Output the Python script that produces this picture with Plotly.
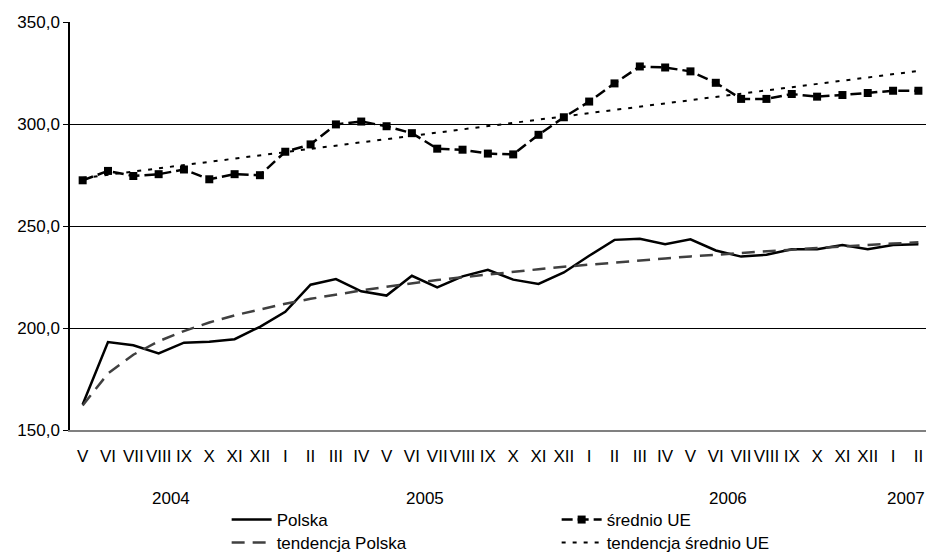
import plotly.graph_objects as go

months = ["V", "VI", "VII", "VIII", "IX", "X", "XI", "XII",
          "I", "II", "III", "IV", "V", "VI", "VII", "VIII", "IX", "X", "XI", "XII",
          "I", "II", "III", "IV", "V", "VI", "VII", "VIII", "IX", "X", "XI", "XII",
          "I", "II"]
years = ["2004", "2005", "2006", "2007"]
year_counts = [8, 12, 12, 2]

polska = [162.5, 193.1, 191.5, 187.5, 192.8, 193.3, 194.5, 200.6,
          207.9, 221.2, 224.0, 218.0, 215.9, 225.6, 219.9, 225.3, 228.5, 223.7, 221.6, 227.2,
          235.4, 243.2, 243.7, 241.1, 243.5, 238.0, 235.0, 235.9, 238.6, 238.6, 240.7, 238.6,
          240.7, 241.1]
srednio_ue = [272.4, 277.0, 274.5, 275.4, 277.7, 272.9, 275.4, 274.9,
              286.4, 290.0, 299.8, 301.2, 298.9, 295.5, 287.9, 287.4, 285.5, 285.1, 294.7, 303.3,
              311.0, 319.9, 328.2, 327.7, 325.8, 320.2, 312.3, 312.3, 314.7, 313.4, 314.2, 315.2,
              316.3, 316.3]
tend_polska = [162.0, 177.7, 186.9, 193.5, 198.5, 202.7, 206.2, 209.2,
               211.9, 214.3, 216.4, 218.4, 220.2, 221.9, 223.5, 224.9, 226.3, 227.6, 228.8, 230.0,
               231.1, 232.2, 233.2, 234.1, 235.1, 236.0, 236.8, 237.6, 238.4, 239.2, 240.0, 240.7,
               241.4, 242.0]
tend_ue_ends = [273.5, 326.0]

y_ticks = [150, 200, 250, 300, 350]
y_tick_labels = ["150,0", "200,0", "250,0", "300,0", "350,0"]

xs = list(range(len(months)))
FONT = "Arial, Liberation Sans, sans-serif"
FS = 17

fig = go.Figure()
fig.add_trace(go.Scatter(x=xs, y=polska, name="Polska", mode="lines",
                         line=dict(color="black", width=2.5), legend="legend"))
fig.add_trace(go.Scatter(x=xs, y=srednio_ue, name="średnio UE", mode="lines+markers",
                         line=dict(color="black", width=2.5, dash="11px,5px"),
                         marker=dict(symbol="square", size=8, color="black"),
                         legend="legend"))
fig.add_trace(go.Scatter(x=xs, y=tend_polska, name="tendencja Polska", mode="lines",
                         line=dict(color="#404040", width=2.5, dash="13px,8px"),
                         legend="legend2"))
fig.add_trace(go.Scatter(x=[xs[0], xs[-1]], y=tend_ue_ends, name="tendencja średnio UE",
                         mode="lines", line=dict(color="black", width=2, dash="4px,7px"),
                         legend="legend2"))

# year labels centered under their month groups
start = 0
for yr, cnt in zip(years, year_counts):
    center = start + (cnt - 1) / 2
    fig.add_annotation(x=center, y=-0.167, xref="x", yref="paper", yanchor="middle",
                       text=yr, showarrow=False,
                       font=dict(family=FONT, size=FS, color="black"))
    start += cnt

legend_common = dict(orientation="h", x=0.183, xanchor="left", yanchor="middle",
                     entrywidth=275, entrywidthmode="pixels", font=dict(size=FS),
                     bgcolor="rgba(0,0,0,0)", tracegroupgap=0, itemwidth=40)

fig.update_layout(
    width=926, height=553,
    margin=dict(l=70, r=0, t=22, b=123, autoexpand=False),
    plot_bgcolor="white", paper_bgcolor="white",
    font=dict(family=FONT, size=FS, color="black"),
    showlegend=True,
    legend=dict(y=-0.2206, **legend_common),
    legend2=dict(y=-0.277, **legend_common),
)
fig.update_xaxes(range=[-0.5, 33.3], tickvals=xs, ticktext=months, showgrid=False,
                 showline=True, linecolor="#808080", linewidth=1.5, ticks="",
                 tickangle=0, ticklabelstandoff=10,
                 tickfont=dict(size=FS), zeroline=False)
fig.update_yaxes(range=[150, 350], tickvals=y_ticks, ticktext=y_tick_labels,
                 showgrid=True, gridcolor="black", gridwidth=1,
                 showline=True, linecolor="black", linewidth=1.5,
                 ticks="outside", ticklen=5, tickcolor="black",
                 tickfont=dict(size=FS), zeroline=False)

fig.write_html(
    "out.html",
    config={"displayModeBar": False},
    post_script="document.body.style.margin='0';document.body.style.overflow='hidden';",
)
